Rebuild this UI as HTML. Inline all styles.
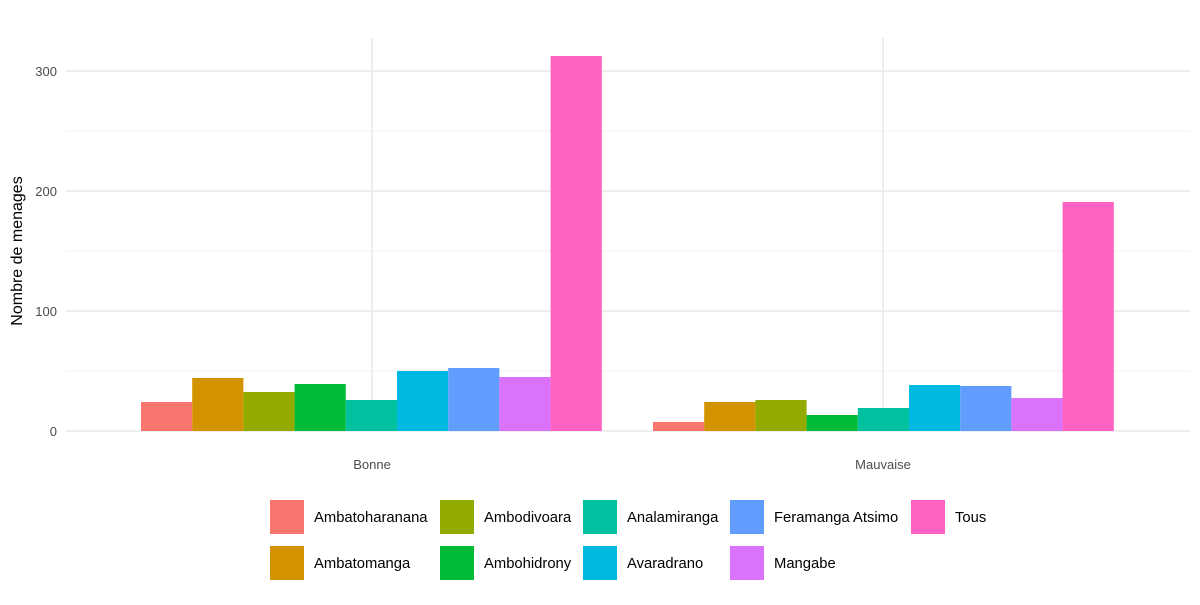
<!DOCTYPE html>
<html><head><meta charset="utf-8"><style>
body{margin:0;background:#fff;}
svg text{font-family:"Liberation Sans",Arial,sans-serif;}
</style></head><body>
<svg width="1200" height="600" xmlns="http://www.w3.org/2000/svg">
<rect width="1200" height="600" fill="#fff"/>
<g stroke="#f0f0f0" stroke-width="1">
<line x1="66" x2="1190" y1="371" y2="371"/>
<line x1="66" x2="1190" y1="251" y2="251"/>
<line x1="66" x2="1190" y1="131" y2="131"/>
</g>
<g stroke="#ebebeb" stroke-width="1.8">
<line x1="66" x2="1190" y1="431" y2="431"/>
<line x1="66" x2="1190" y1="311" y2="311"/>
<line x1="66" x2="1190" y1="191" y2="191"/>
<line x1="66" x2="1190" y1="71" y2="71"/>
<line x1="372" x2="372" y1="38" y2="431"/>
<line x1="883" x2="883" y1="38" y2="431"/>
</g>
<g>
<rect x="141" y="402" width="51.2" height="29" fill="#F8766D"/>
<rect x="192.2" y="378" width="51.2" height="53" fill="#D39200"/>
<rect x="243.4" y="392" width="51.2" height="39" fill="#93AA00"/>
<rect x="294.6" y="384" width="51.2" height="47" fill="#00BA38"/>
<rect x="345.8" y="400" width="51.2" height="31" fill="#00C19F"/>
<rect x="397" y="371" width="51.2" height="60" fill="#00B9E3"/>
<rect x="448.2" y="368" width="51.2" height="63" fill="#619CFF"/>
<rect x="499.4" y="377" width="51.2" height="54" fill="#DB72FB"/>
<rect x="550.6" y="56" width="51.2" height="375" fill="#FF61C3"/>
<rect x="653" y="422" width="51.2" height="9" fill="#F8766D"/>
<rect x="704.2" y="402" width="51.2" height="29" fill="#D39200"/>
<rect x="755.4" y="400" width="51.2" height="31" fill="#93AA00"/>
<rect x="806.6" y="415" width="51.2" height="16" fill="#00BA38"/>
<rect x="857.8" y="408" width="51.2" height="23" fill="#00C19F"/>
<rect x="909" y="385" width="51.2" height="46" fill="#00B9E3"/>
<rect x="960.2" y="386" width="51.2" height="45" fill="#619CFF"/>
<rect x="1011.4" y="398" width="51.2" height="33" fill="#DB72FB"/>
<rect x="1062.6" y="202" width="51.2" height="229" fill="#FF61C3"/>
</g>
<g font-size="13" fill="#4d4d4d" text-anchor="end">
<text x="57" y="436">0</text>
<text x="57" y="316">100</text>
<text x="57" y="196">200</text>
<text x="57" y="76">300</text>
</g>
<g font-size="13" fill="#4d4d4d" text-anchor="middle">
<text x="372" y="469">Bonne</text>
<text x="883" y="469">Mauvaise</text>
</g>
<text transform="translate(22,251) rotate(-90)" font-size="16" fill="#000" text-anchor="middle">Nombre de menages</text>
<g font-size="14.8" fill="#000">
<rect x="270" y="500" width="34" height="34" fill="#F8766D"/><text x="314" y="522">Ambatoharanana</text>
<rect x="270" y="546" width="34" height="34" fill="#D39200"/><text x="314" y="568">Ambatomanga</text>
<rect x="440" y="500" width="34" height="34" fill="#93AA00"/><text x="484" y="522">Ambodivoara</text>
<rect x="440" y="546" width="34" height="34" fill="#00BA38"/><text x="484" y="568">Ambohidrony</text>
<rect x="583" y="500" width="34" height="34" fill="#00C19F"/><text x="627" y="522">Analamiranga</text>
<rect x="583" y="546" width="34" height="34" fill="#00B9E3"/><text x="627" y="568">Avaradrano</text>
<rect x="730" y="500" width="34" height="34" fill="#619CFF"/><text x="774" y="522">Feramanga Atsimo</text>
<rect x="730" y="546" width="34" height="34" fill="#DB72FB"/><text x="774" y="568">Mangabe</text>
<rect x="911" y="500" width="34" height="34" fill="#FF61C3"/><text x="955" y="522">Tous</text>
</g>
</svg>
</body></html>
